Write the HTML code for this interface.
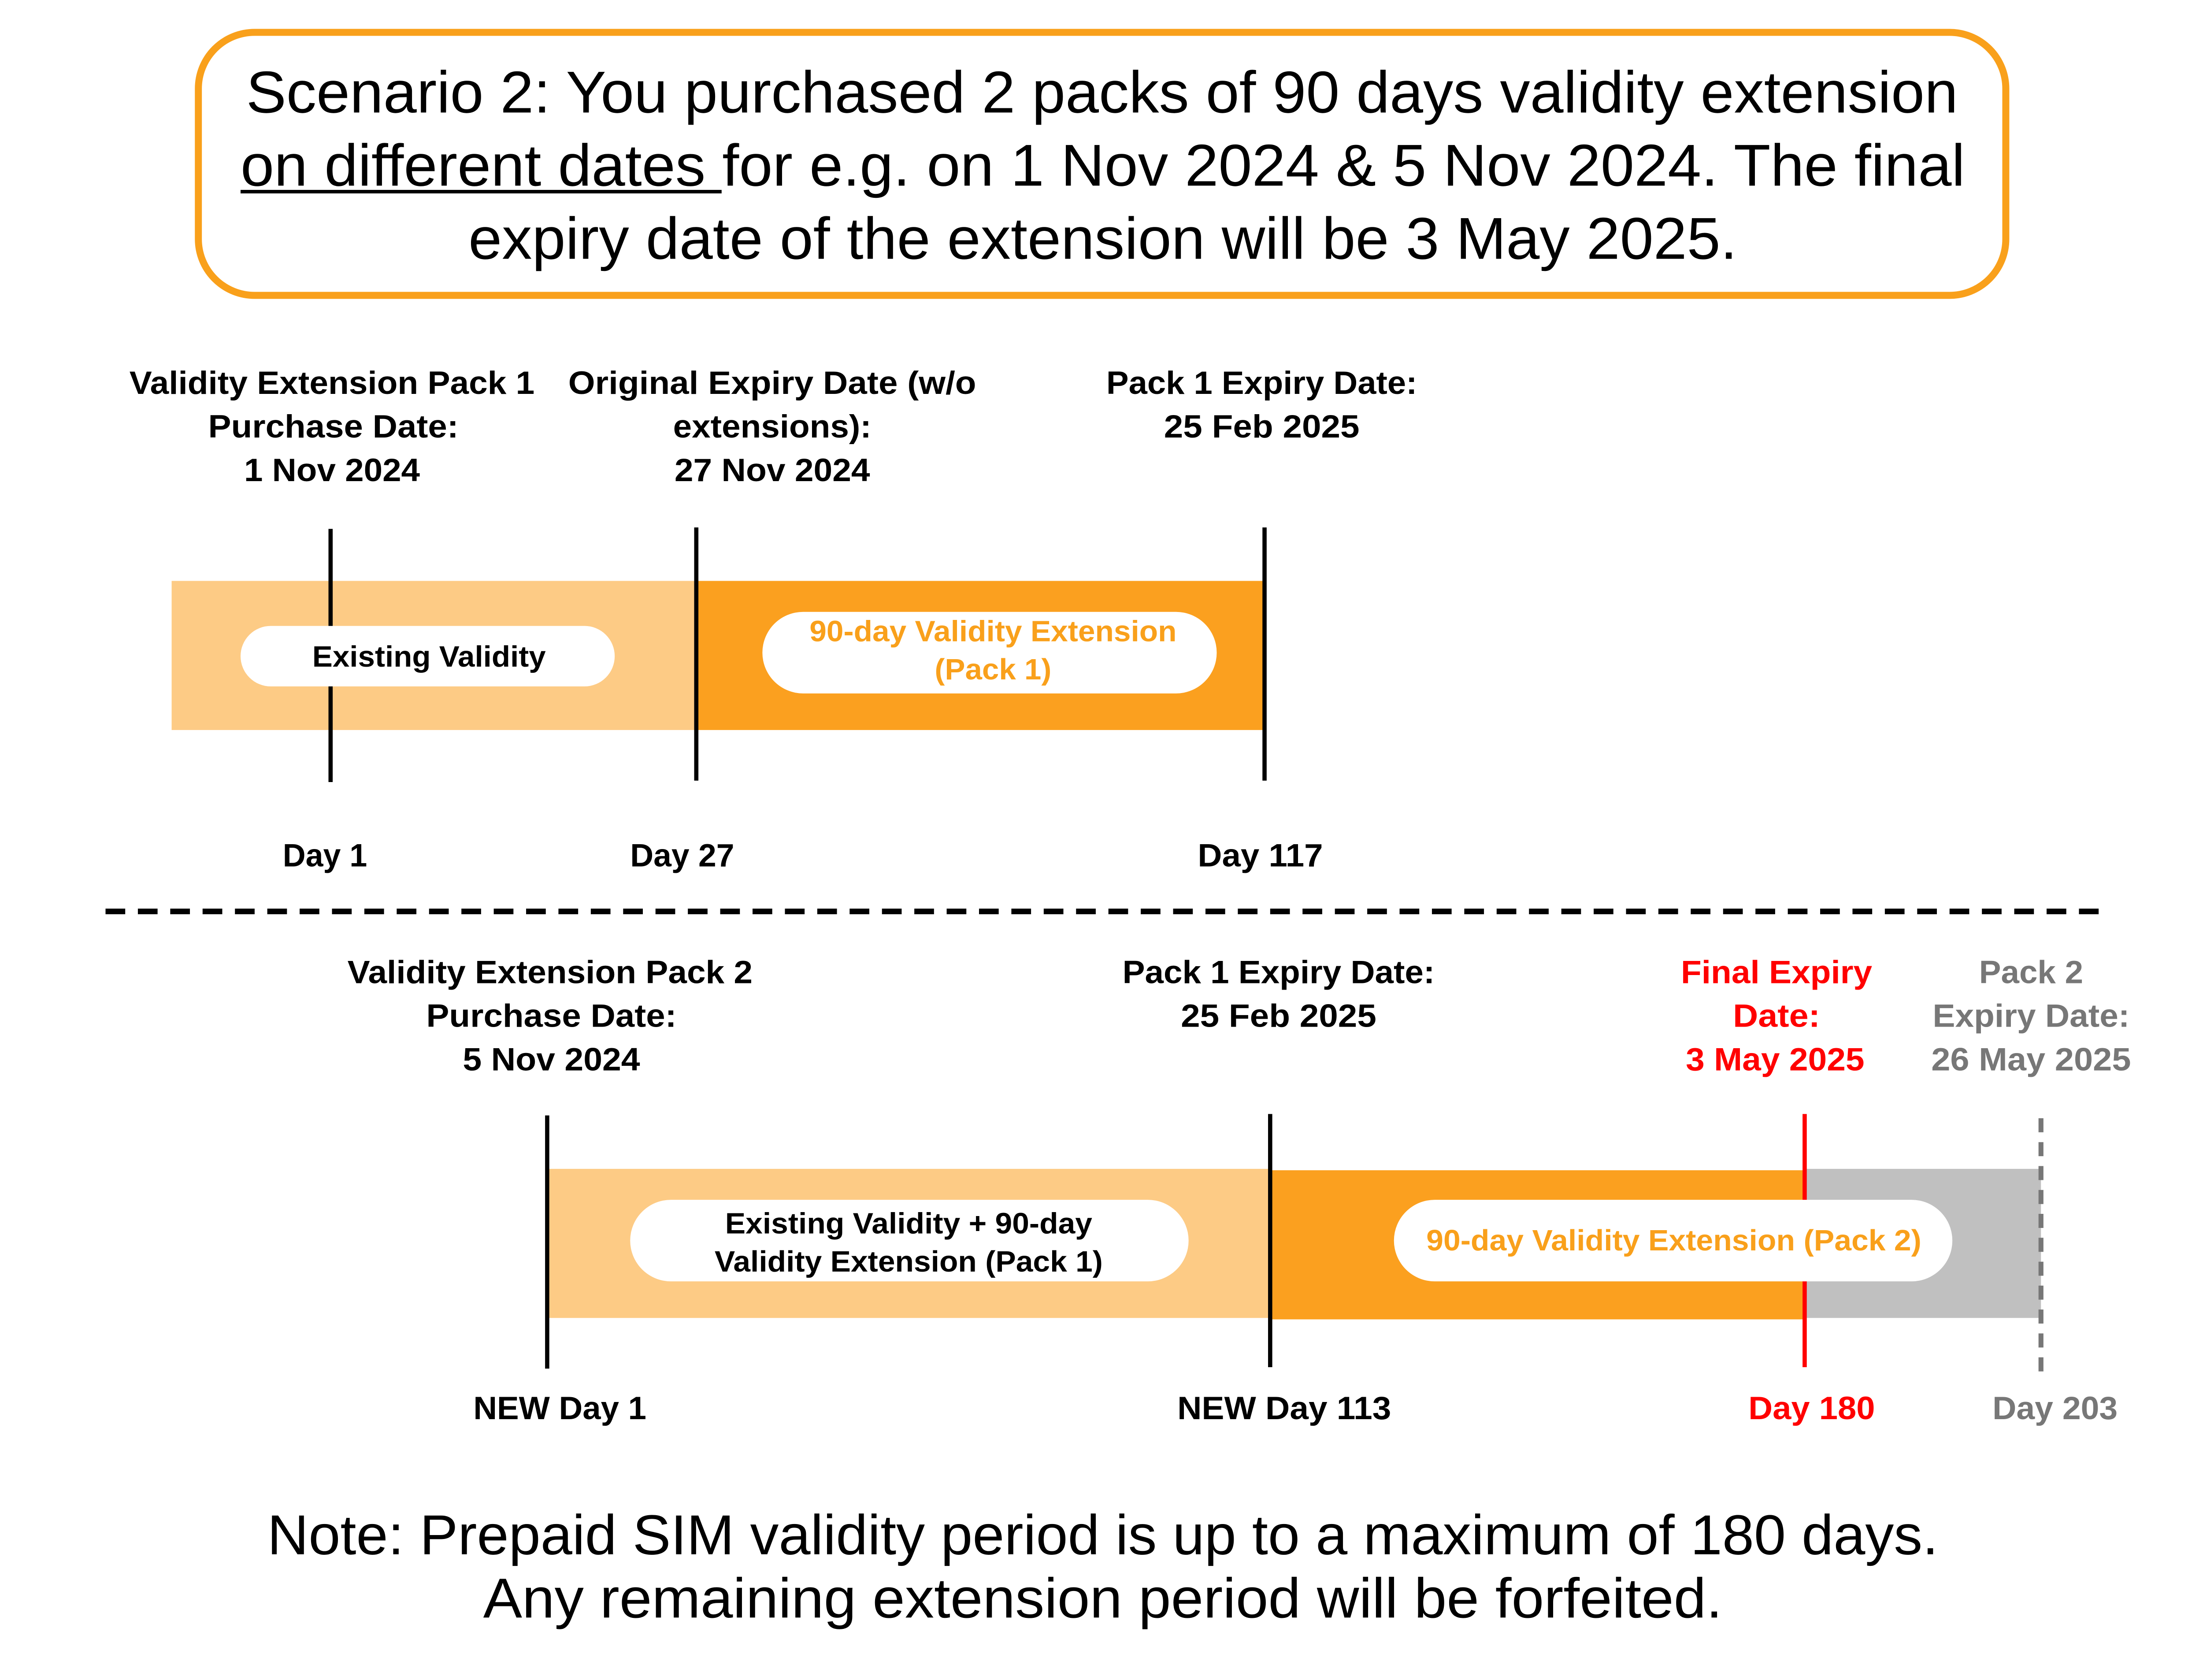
<!DOCTYPE html>
<html><head><meta charset="utf-8"><style>
html,body{margin:0;padding:0;background:#fff;}
svg{display:block;}
text{font-family:"Liberation Sans",sans-serif;}
.b{font-weight:bold;font-size:23px;}
</style></head><body>
<svg width="5078" height="3813" viewBox="0 0 1590.6 1194.4" xmlns="http://www.w3.org/2000/svg">
<rect width="1590.6" height="1194.4" fill="#fff"/>
<!-- top box -->
<rect x="141" y="23" width="1285" height="187" rx="40" fill="#fff" stroke="#F9A01B" stroke-width="5"/>
<g font-size="42" fill="#000">
<text x="175" y="80" textLength="1217" lengthAdjust="spacingAndGlyphs">Scenario 2: You purchased 2 packs of 90 days validity extension</text>
<text x="171" y="132" textLength="1226" lengthAdjust="spacingAndGlyphs">on different dates for e.g. on 1 Nov 2024 &amp; 5 Nov 2024. The final</text>
<text x="333" y="184" textLength="902" lengthAdjust="spacingAndGlyphs">expiry date of the extension will be 3 May 2025.</text>
</g>
<rect x="171" y="135" width="342" height="2.5" fill="#000"/>

<!-- section 1 -->
<g text-anchor="middle" fill="#000">
<text class="b" x="236" y="280" textLength="288" lengthAdjust="spacingAndGlyphs">Validity Extension Pack 1</text>
<text class="b" x="237" y="311" textLength="178" lengthAdjust="spacingAndGlyphs">Purchase Date:</text>
<text class="b" x="236" y="342" textLength="125" lengthAdjust="spacingAndGlyphs">1 Nov 2024</text>
<text class="b" x="549" y="280" textLength="290" lengthAdjust="spacingAndGlyphs">Original Expiry Date (w/o</text>
<text class="b" x="549" y="311" textLength="141" lengthAdjust="spacingAndGlyphs">extensions):</text>
<text class="b" x="549" y="342" textLength="139" lengthAdjust="spacingAndGlyphs">27 Nov 2024</text>
<text class="b" x="897" y="280" textLength="221" lengthAdjust="spacingAndGlyphs">Pack 1 Expiry Date:</text>
<text class="b" x="897" y="311" textLength="139" lengthAdjust="spacingAndGlyphs">25 Feb 2025</text>
<text class="b" x="231" y="616" textLength="60" lengthAdjust="spacingAndGlyphs">Day 1</text>
<text class="b" x="485" y="616" textLength="74" lengthAdjust="spacingAndGlyphs">Day 27</text>
<text class="b" x="896" y="616" textLength="89" lengthAdjust="spacingAndGlyphs">Day 117</text>
</g>
<rect x="122" y="413" width="373" height="106" fill="#FDCB85"/>
<rect x="495" y="413" width="404" height="106" fill="#FBA01F"/>
<g stroke="#000" stroke-width="3">
<line x1="235" y1="376" x2="235" y2="556"/>
<line x1="495" y1="375" x2="495" y2="555"/>
<line x1="899" y1="375" x2="899" y2="555"/>
</g>
<rect x="171" y="445" width="266" height="43" rx="21.5" fill="#fff"/>
<text x="305" y="474" text-anchor="middle" style="font-size:21px;font-weight:bold" textLength="166" lengthAdjust="spacingAndGlyphs">Existing Validity</text>
<rect x="542" y="435" width="323" height="58" rx="29" fill="#fff"/>
<text x="706" y="456" text-anchor="middle" fill="#F9A01B" style="font-size:21px;font-weight:bold" textLength="261" lengthAdjust="spacingAndGlyphs">90-day Validity Extension</text>
<text x="706" y="483" text-anchor="middle" fill="#F9A01B" style="font-size:21px;font-weight:bold" textLength="83" lengthAdjust="spacingAndGlyphs">(Pack 1)</text>

<!-- dashed separator -->
<line x1="75" y1="648" x2="1497" y2="648" stroke="#000" stroke-width="4" stroke-dasharray="14 9"/>

<!-- section 2 -->
<g text-anchor="middle">
<text class="b" x="391" y="699" textLength="288" lengthAdjust="spacingAndGlyphs">Validity Extension Pack 2</text>
<text class="b" x="392" y="730" textLength="178" lengthAdjust="spacingAndGlyphs">Purchase Date:</text>
<text class="b" x="392" y="761" textLength="126" lengthAdjust="spacingAndGlyphs">5 Nov 2024</text>
<text class="b" x="909" y="699" textLength="222" lengthAdjust="spacingAndGlyphs">Pack 1 Expiry Date:</text>
<text class="b" x="909" y="730" textLength="139" lengthAdjust="spacingAndGlyphs">25 Feb 2025</text>
<text class="b" x="1263" y="699" fill="#FF0000" textLength="136" lengthAdjust="spacingAndGlyphs">Final Expiry</text>
<text class="b" x="1263" y="730" fill="#FF0000" textLength="62" lengthAdjust="spacingAndGlyphs">Date:</text>
<text class="b" x="1262" y="761" fill="#FF0000" textLength="127" lengthAdjust="spacingAndGlyphs">3 May 2025</text>
<text class="b" x="1444" y="699" fill="#777" textLength="74" lengthAdjust="spacingAndGlyphs">Pack 2</text>
<text class="b" x="1444" y="730" fill="#777" textLength="140" lengthAdjust="spacingAndGlyphs">Expiry Date:</text>
<text class="b" x="1444" y="761" fill="#777" textLength="142" lengthAdjust="spacingAndGlyphs">26 May 2025</text>
<text class="b" x="398" y="1009" textLength="123" lengthAdjust="spacingAndGlyphs">NEW Day 1</text>
<text class="b" x="913" y="1009" textLength="152" lengthAdjust="spacingAndGlyphs">NEW Day 113</text>
<text class="b" x="1288" y="1009" fill="#FF0000" textLength="90" lengthAdjust="spacingAndGlyphs">Day 180</text>
<text class="b" x="1461" y="1009" fill="#777" textLength="89" lengthAdjust="spacingAndGlyphs">Day 203</text>
</g>
<rect x="389" y="831" width="514" height="106" fill="#FDCB85"/>
<rect x="903" y="832" width="380" height="106" fill="#FBA01F"/>
<rect x="1283" y="831" width="168" height="106" fill="#C0C0C0"/>
<g stroke-width="3">
<line x1="389" y1="793" x2="389" y2="973" stroke="#000"/>
<line x1="903" y1="792" x2="903" y2="972" stroke="#000"/>
<line x1="1283" y1="792" x2="1283" y2="972" stroke="#FF0000"/>
<line x1="1451" y1="795" x2="1451" y2="975" stroke="#777" stroke-width="3.5" stroke-dasharray="10 7"/>
</g>
<rect x="448" y="853" width="397" height="58" rx="29" fill="#fff"/>
<text x="646" y="877" text-anchor="middle" style="font-size:21px;font-weight:bold" textLength="261" lengthAdjust="spacingAndGlyphs">Existing Validity + 90-day</text>
<text x="646" y="904" text-anchor="middle" style="font-size:21px;font-weight:bold" textLength="276" lengthAdjust="spacingAndGlyphs">Validity Extension (Pack 1)</text>
<rect x="991" y="853" width="397" height="58" rx="29" fill="#fff"/>
<text x="1190" y="889" text-anchor="middle" fill="#F9A01B" style="font-size:21px;font-weight:bold" textLength="352" lengthAdjust="spacingAndGlyphs">90-day Validity Extension (Pack 2)</text>

<!-- note -->
<text x="784" y="1105" text-anchor="middle" font-size="40" textLength="1188" lengthAdjust="spacingAndGlyphs">Note: Prepaid SIM validity period is up to a maximum of 180 days.</text>
<text x="784" y="1150" text-anchor="middle" font-size="40" textLength="881" lengthAdjust="spacingAndGlyphs">Any remaining extension period will be forfeited.</text>
</svg>
</body></html>
